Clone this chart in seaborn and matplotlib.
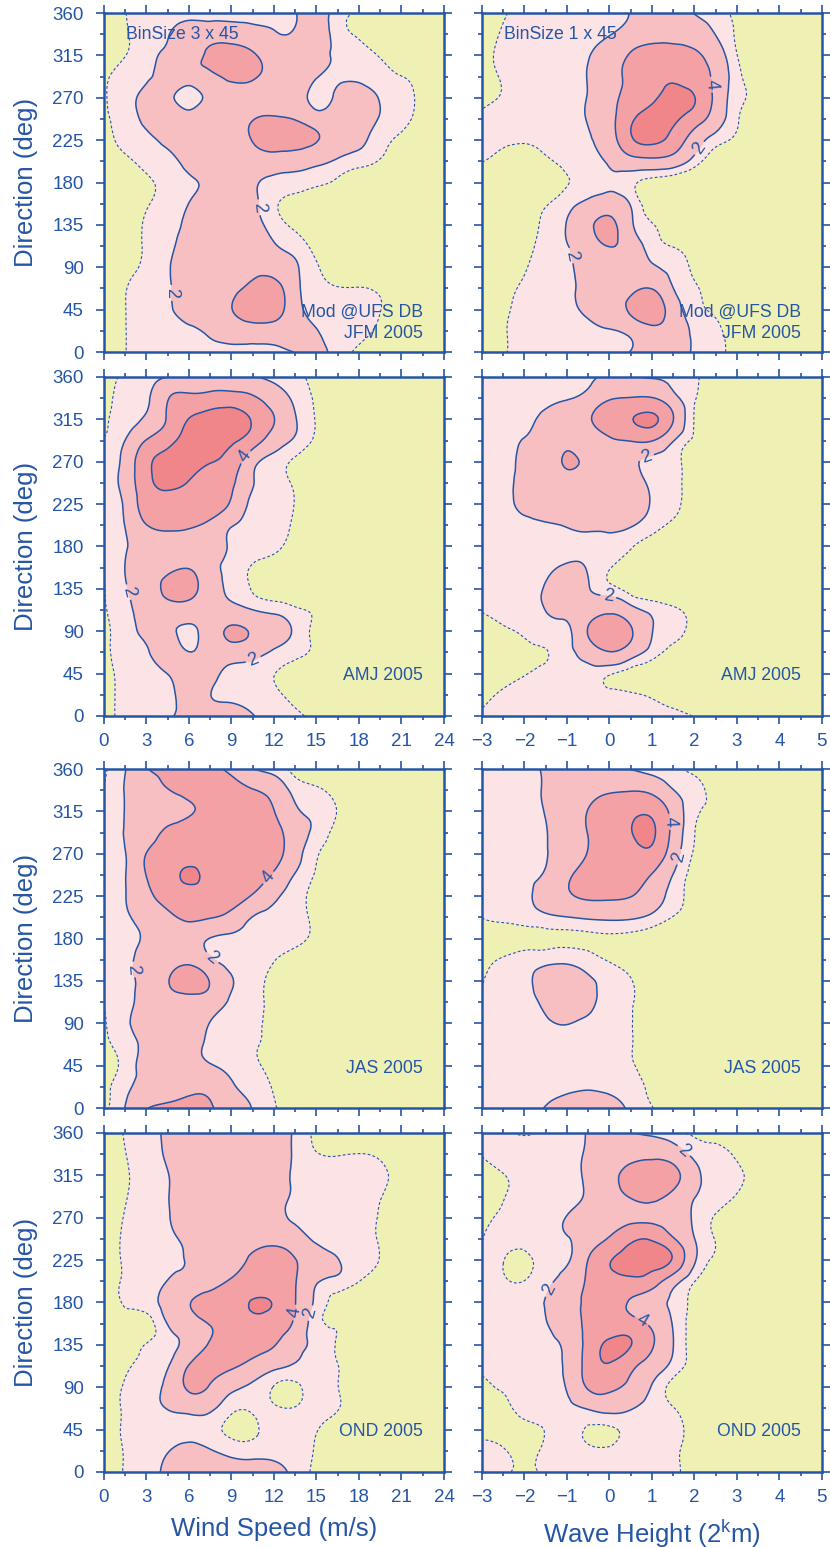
import numpy as np
import matplotlib
matplotlib.use("Agg")
import matplotlib.pyplot as plt
import matplotlib.tri as mtri
import seaborn as sns

# axes of the binned fields
wind_speed = [0, 1.5, 3, 4.5, 6, 7.5, 9, 10.5, 12, 13.5, 15, 16.5, 18, 19.5, 21, 22.5, 24]
wave_height = [-3, -2.5, -2, -1.5, -1, -0.5, 0, 0.5, 1, 1.5, 2, 2.5, 3, 3.5, 4, 4.5, 5]
direction = [0, 22.5, 45, 67.5, 90, 112.5, 135, 157.5, 180,
             202.5, 225, 247.5, 270, 292.5, 315, 337.5, 360]

wind_ticks = [0, 3, 6, 9, 12, 15, 18, 21, 24]
wave_ticks = [-3, -2, -1, 0, 1, 2, 3, 4, 5]
dir_ticks = [0, 45, 90, 135, 180, 225, 270, 315, 360]

seasons = ["JFM 2005", "AMJ 2005", "JAS 2005", "OND 2005"]

# counts, rows from 360 deg (top) down to 0 deg
jfm_wind = [
    [0.5, 0.98, 1.5, 1.5, 1.5, 1.5, 1.5, 1.6, 1.8, 1.95, 2.6, 1.5, 0.8, 0, 0, 0, 0],
    [0.3, 0.9, 1.5, 1.95, 2.6, 3, 3, 2.6, 2.1, 2.2, 2.8, 1.45, 0.85, 0, 0, 0, 0],
    [0.4, 0.98, 1.6, 2.2, 3, 4.5, 5, 4.3, 3, 3, 2.6, 1.8, 1.4, 0.9, 0.3, 0, 0],
    [0.8, 1.4, 1.8, 2.5, 3, 3.5, 4.5, 4.3, 3.2, 3, 2.1, 1.8, 1.7, 1.4, 1.02, 0.5, 0],
    [0.9, 1.6, 2.5, 2.6, 1.2, 2.7, 3, 3, 3, 2.8, 1.5, 2.4, 2.8, 1.9, 1.4, 0.7, 0.2],
    [0.8, 1.5, 2.3, 2.8, 3, 3, 3, 3.9, 4.3, 3.9, 2.9, 2.8, 2.7, 1.9, 1.3, 0.6, 0],
    [0.5, 1.3, 1.7, 2.3, 3, 3, 3, 4.1, 5, 4.8, 4.1, 3, 2.3, 1.4, 0.8, 0.3, 0],
    [0.3, 0.8, 1.3, 1.7, 2.4, 3, 3, 3, 3, 2.8, 2.4, 1.8, 1.4, 0.9, 0.3, 0, 0],
    [0, 0.3, 0.8, 1.3, 1.8, 2.4, 3, 2.2, 1.7, 1.5, 1.2, 0.8, 0.3, 0, 0, 0, 0],
    [0, 0.3, 0.9, 1.4, 2.02, 2.8, 3, 2.3, 1.2, 0.6, 0.2, 0, 0, 0, 0, 0, 0],
    [0.2, 0.6, 1.1, 1.6, 2.3, 3, 3, 2.5, 1.5, 0.8, 0.3, 0, 0, 0, 0, 0, 0],
    [0.2, 0.6, 1.1, 1.7, 2.6, 3, 3, 3, 2.15, 1.5, 0.7, 0.2, 0, 0, 0, 0, 0],
    [0.3, 0.7, 1.2, 1.9, 2.6, 3, 3.2, 3.5, 3.2, 2.2, 1.1, 0.5, 0.2, 0, 0, 0, 0],
    [0.4, 0.95, 1.5, 1.9, 2.5, 3, 3.5, 4.6, 4.8, 2.5, 1.3, 1.05, 1.05, 0.8, 0.3, 0, 0],
    [0.4, 0.98, 1.5, 1.8, 2.6, 3, 3.95, 5.2, 5, 2.7, 1.6, 1.5, 1.4, 1.02, 0.4, 0, 0],
    [0.4, 0.98, 1.3, 1.5, 1.7, 2.3, 2.8, 3, 3, 2.8, 2.05, 1.6, 1.3, 0.8, 0.3, 0, 0],
    [0.4, 0.98, 1.4, 1.5, 1.5, 1.6, 1.7, 1.75, 1.8, 2.02, 2.4, 1.5, 0.8, 0.2, 0, 0, 0],
]

jfm_wave = [
    [0.3, 0.9, 1.3, 1.5, 1.5, 1.6, 1.8, 2.05, 2.8, 2.8, 1.95, 1.4, 0.8, 0.2, 0, 0, 0],
    [0.5, 1.1, 1.4, 1.5, 1.5, 1.7, 1.95, 2.7, 3.2, 3.2, 3, 1.95, 0.9, 0.4, 0, 0, 0],
    [0.7, 1.2, 1.4, 1.5, 1.7, 1.95, 2.8, 4.2, 5, 5, 4.3, 3, 1.02, 0.3, 0, 0, 0],
    [0.6, 1.1, 1.4, 1.5, 1.7, 2.05, 3.2, 4.5, 5.5, 5.8, 5.0, 3.5, 1.3, 0.6, 0.2, 0, 0],
    [0.6, 1.1, 1.4, 1.5, 1.7, 2.05, 3.3, 4.8, 5.8, 6.5, 6.05, 3.5, 1.3, 0.8, 0.2, 0, 0],
    [1.3, 1.4, 1.5, 1.5, 1.7, 2.05, 3.3, 5.7, 6.5, 6.3, 5.0, 3.0, 1.1, 0.6, 0.1, 0, 0],
    [1.2, 1.15, 1.1, 1.3, 1.6, 1.9, 3.05, 5.7, 6.4, 5.3, 3.0, 1.4, 0.8, 0.2, 0, 0, 0],
    [1.02, 0.7, 0.5, 0.8, 1.3, 1.6, 2.2, 3.2, 3.4, 3.0, 1.5, 0.5, 0.2, 0, 0, 0, 0],
    [0.4, 0.2, 0.2, 0.3, 0.95, 1.3, 1.8, 1.3, 0.6, 0.3, 0, 0, 0, 0, 0, 0, 0],
    [0.3, 0.3, 0.5, 0.9, 1.6, 2.4, 2.9, 1.9, 0.4, 0.2, 0, 0, 0, 0, 0, 0, 0],
    [0.4, 0.5, 0.7, 1.2, 2.05, 3.5, 4.5, 2.3, 1.05, 0.4, 0, 0, 0, 0, 0, 0, 0],
    [0.5, 0.6, 0.8, 1.3, 1.95, 3, 4.05, 3.0, 1.5, 0.95, 0.4, 0, 0, 0, 0, 0, 0],
    [0.6, 0.7, 0.95, 1.3, 1.75, 2.6, 3, 3, 2.2, 1.6, 0.8, 0.2, 0, 0, 0, 0, 0],
    [0.7, 0.8, 1.1, 1.3, 1.7, 2.5, 3, 3.5, 3.95, 2.02, 1.1, 0.4, 0, 0, 0, 0, 0],
    [0.8, 0.9, 1.2, 1.4, 1.7, 2.3, 3, 4.3, 5.0, 3.0, 1.3, 0.8, 0.2, 0, 0, 0, 0],
    [0.8, 0.95, 1.2, 1.3, 1.4, 1.6, 1.9, 2.5, 3.5, 3, 1.8, 1.2, 0.5, 0, 0, 0, 0],
    [0.8, 0.95, 1.2, 1.3, 1.4, 1.5, 1.7, 2.05, 2.8, 2.6, 1.9, 1.3, 0.6, 0, 0, 0, 0],
]

amj_wind = [
    [0.6, 1.1, 1.5, 2.02, 2.4, 2.8, 3, 2.2, 1.7, 1.2, 0.8, 0.3, 0, 0, 0, 0, 0],
    [0.7, 1.2, 1.7, 3.9, 4.5, 4.7, 4.8, 4.3, 3, 1.7, 0.9, 0.5, 0, 0, 0, 0, 0],
    [0.9, 1.4, 2.3, 4.2, 6.05, 6.8, 7, 5.8, 4.05, 2.1, 0.95, 0.4, 0, 0, 0, 0, 0],
    [1.05, 2.02, 4.1, 5.4, 6.8, 7, 6.3, 5.0, 3.0, 1.8, 0.8, 0.2, 0, 0, 0, 0, 0],
    [1.2, 2.6, 5.5, 6.6, 6.8, 6.1, 5.2, 2.6, 1.5, 0.8, 0.3, 0, 0, 0, 0, 0, 0],
    [1.3, 2.7, 5.4, 6.4, 5.9, 5.2, 4.3, 2.1, 1.5, 0.8, 0.2, 0, 0, 0, 0, 0, 0],
    [1.3, 2.3, 5.0, 5.3, 5.4, 5.2, 3.7, 1.6, 1.5, 0.95, 0.3, 0, 0, 0, 0, 0, 0],
    [1.2, 2.05, 3.95, 4.4, 4.3, 3.5, 2.1, 1.7, 1.5, 0.8, 0.2, 0, 0, 0, 0, 0, 0],
    [1.2, 1.9, 2.7, 3, 3, 2.8, 1.8, 1.5, 1.2, 0.6, 0.1, 0, 0, 0, 0, 0, 0],
    [1.1, 2.02, 2.8, 3.4, 3.9, 2.6, 1.6, 0.9, 0.5, 0.1, 0, 0, 0, 0, 0, 0, 0],
    [0.95, 1.9, 2.8, 4.6, 4.7, 2.9, 1.7, 0.9, 0.3, 0, 0, 0, 0, 0, 0, 0, 0],
    [0.9, 1.7, 2.4, 2.9, 3, 2.9, 2.6, 2.02, 1.7, 1.2, 0.8, 0.2, 0, 0, 0, 0, 0],
    [0.7, 1.6, 2.2, 2.2, 1.8, 2.9, 4.3, 3.7, 2.6, 1.8, 0.7, 0.3, 0, 0, 0, 0, 0],
    [0.8, 1.4, 1.9, 2.4, 2.02, 2.6, 3.0, 2.7, 1.8, 1.3, 0.8, 0.3, 0, 0, 0, 0, 0],
    [0.7, 1.3, 1.7, 2.02, 2.6, 2.4, 1.6, 1.3, 1.02, 0.6, 0.3, 0, 0, 0, 0, 0, 0],
    [0.7, 1.25, 1.5, 1.7, 2.4, 2.02, 1.7, 1.5, 1.2, 0.7, 0.3, 0, 0, 0, 0, 0, 0],
    [0.7, 1.25, 1.5, 1.8, 2.5, 2.8, 2.6, 2.05, 1.6, 1.2, 0.7, 0.2, 0, 0, 0, 0, 0],
]

amj_wave = [
    [1.4, 1.5, 1.5, 1.6, 1.7, 1.85, 2.1, 2.05, 1.9, 1.6, 1.1, 0.6, 0.2, 0, 0, 0, 0],
    [1.3, 1.4, 1.5, 1.6, 1.9, 2.6, 3.8, 4.1, 4.1, 2.6, 1.05, 0.5, 0.1, 0, 0, 0, 0],
    [1.3, 1.5, 1.8, 2.3, 2.9, 3.8, 5.0, 5.9, 6.3, 4.05, 0.95, 0.5, 0.1, 0, 0, 0, 0],
    [1.3, 1.5, 2.05, 2.6, 3.5, 3.2, 3.7, 4.1, 4.1, 2.1, 0.9, 0.4, 0, 0, 0, 0, 0],
    [1.2, 1.5, 2.2, 2.8, 4.2, 3.5, 3, 2.4, 1.6, 1.2, 0.6, 0.1, 0, 0, 0, 0, 0],
    [1.25, 1.6, 2.3, 2.8, 3.3, 3.1, 3, 2.8, 1.7, 1.2, 0.6, 0.1, 0, 0, 0, 0, 0],
    [1.25, 1.6, 2.3, 2.8, 3, 3, 3, 2.8, 1.9, 1.2, 0.6, 0.1, 0, 0, 0, 0, 0],
    [1.3, 1.5, 1.7, 1.85, 2.1, 2.3, 2.3, 2.1, 1.45, 0.8, 0.4, 0, 0, 0, 0, 0, 0],
    [1.3, 1.5, 1.6, 1.7, 1.75, 1.7, 1.6, 1.1, 0.5, 0.1, 0, 0, 0, 0, 0, 0, 0],
    [1.3, 1.4, 1.5, 1.8, 2.15, 1.9, 1.05, 0.5, 0.1, 0, 0, 0, 0, 0, 0, 0, 0],
    [1.3, 1.4, 1.7, 2.1, 2.9, 2.1, 1.3, 0.6, 0.1, 0, 0, 0, 0, 0, 0, 0, 0],
    [1.05, 1.3, 1.6, 2.02, 2.7, 3, 3.6, 2.6, 1.7, 1.2, 0.5, 0, 0, 0, 0, 0, 0],
    [0.6, 0.85, 1.2, 1.5, 1.6, 4.1, 5, 4.2, 2.05, 1.3, 0.6, 0.1, 0, 0, 0, 0, 0],
    [0.4, 0.5, 0.7, 0.95, 1.6, 2.8, 3.9, 2.9, 1.5, 0.7, 0.3, 0, 0, 0, 0, 0, 0],
    [0.5, 0.7, 0.95, 1.2, 1.5, 1.6, 1.1, 0.6, 0.2, 0, 0, 0, 0, 0, 0, 0, 0],
    [0.8, 1.1, 1.3, 1.4, 1.4, 1.4, 1.3, 1.15, 0.8, 0.4, 0, 0, 0, 0, 0, 0, 0],
    [1.1, 1.3, 1.4, 1.5, 1.5, 1.5, 1.6, 1.5, 1.4, 1.3, 0.95, 0.5, 0.1, 0, 0, 0, 0],
]

jas_wind = [
    [0.9, 1.95, 3.9, 4.5, 4.8, 4.4, 3.5, 2.05, 1.5, 0.7, 0.3, 0, 0, 0, 0, 0, 0],
    [0.98, 2.05, 2.8, 3.9, 4.6, 4.8, 4.8, 4.1, 3.2, 1.6, 1.2, 0.5, 0.1, 0, 0, 0, 0],
    [0.98, 2.05, 2.8, 3.1, 3.8, 4.5, 5, 5, 4.05, 2.2, 1.8, 0.95, 0.4, 0, 0, 0, 0],
    [1.02, 2.05, 2.8, 4.5, 5, 5.2, 5.2, 5.2, 4.8, 2.8, 1.7, 0.6, 0.2, 0, 0, 0, 0],
    [1.05, 1.95, 4.05, 5, 5.3, 5.4, 5.4, 5.3, 4.8, 2.7, 1.1, 0.4, 0, 0, 0, 0, 0],
    [1.05, 1.95, 4.05, 5.2, 6.3, 5.5, 5.4, 5.1, 3.7, 1.9, 0.9, 0.2, 0, 0, 0, 0, 0],
    [1.05, 1.95, 3.5, 4.6, 5.2, 5.3, 5.0, 3.8, 2.3, 1.4, 0.7, 0.3, 0, 0, 0, 0, 0],
    [1.05, 1.8, 2.6, 3.6, 4.3, 4.1, 3.3, 1.95, 1.7, 1.5, 0.7, 0.3, 0, 0, 0, 0, 0],
    [1.05, 1.6, 2.15, 2.6, 2.8, 1.95, 1.7, 1.6, 1.5, 1.35, 0.7, 0.3, 0, 0, 0, 0, 0],
    [1.05, 1.6, 2.5, 3.0, 3.5, 2.3, 1.5, 1.5, 1.05, 0.5, 0.1, 0, 0, 0, 0, 0, 0],
    [1.05, 1.6, 2.5, 3.9, 4.8, 3.9, 2.1, 1.4, 0.7, 0.2, 0, 0, 0, 0, 0, 0, 0],
    [1.02, 1.6, 2.5, 3.2, 3.4, 3.0, 1.8, 1.3, 0.7, 0.2, 0, 0, 0, 0, 0, 0, 0],
    [0.9, 1.8, 2.4, 2.8, 3, 1.95, 1.7, 1.2, 0.8, 0.2, 0, 0, 0, 0, 0, 0, 0],
    [0.8, 1.5, 2.3, 2.8, 2.5, 1.8, 1.6, 1.1, 0.8, 0.2, 0, 0, 0, 0, 0, 0, 0],
    [0.6, 1.35, 2.5, 2.8, 2.6, 2.1, 1.7, 1.2, 0.7, 0.2, 0, 0, 0, 0, 0, 0, 0],
    [0.7, 1.7, 2.5, 3.0, 3.5, 3.4, 2.2, 1.6, 0.9, 0.3, 0, 0, 0, 0, 0, 0, 0],
    [0.8, 2.05, 3.9, 4.5, 4.8, 4.2, 3.0, 1.95, 1.1, 0.4, 0, 0, 0, 0, 0, 0, 0],
]

jas_wave = [
    [1.5, 1.6, 1.8, 2.1, 2.5, 2.6, 2.4, 1.95, 1.5, 1.2, 0.8, 0.3, 0, 0, 0, 0, 0],
    [1.5, 1.6, 1.8, 2.1, 2.8, 3.4, 3.8, 3.9, 3.5, 2.05, 1.3, 0.6, 0.1, 0, 0, 0, 0],
    [1.45, 1.55, 1.75, 2.05, 3, 4.05, 4.8, 5.5, 5.6, 3.3, 1.2, 0.7, 0.1, 0, 0, 0, 0],
    [1.4, 1.55, 1.7, 1.95, 2.9, 4.05, 5.0, 5.9, 6.3, 3.4, 1.02, 0.4, 0, 0, 0, 0, 0],
    [1.4, 1.5, 1.7, 1.95, 2.8, 4.1, 5.0, 5.3, 5.5, 2.9, 0.9, 0.3, 0, 0, 0, 0, 0],
    [1.4, 1.55, 1.8, 2.15, 3.6, 4.7, 5.0, 4.9, 3.9, 1.95, 0.7, 0.2, 0, 0, 0, 0, 0],
    [1.35, 1.5, 1.8, 2.6, 3.7, 4.3, 4.3, 4.05, 2.9, 1.5, 0.7, 0.2, 0, 0, 0, 0, 0],
    [1.02, 1.2, 1.4, 1.7, 1.95, 2.2, 2.3, 2.2, 1.7, 0.95, 0.5, 0.1, 0, 0, 0, 0, 0],
    [0.5, 0.6, 0.7, 0.75, 0.8, 0.8, 0.8, 0.7, 0.4, 0.1, 0, 0, 0, 0, 0, 0, 0],
    [0.6, 1.1, 1.4, 1.6, 1.7, 1.4, 0.9, 0.6, 0.2, 0, 0, 0, 0, 0, 0, 0, 0],
    [0.95, 1.4, 1.7, 2.6, 2.8, 2.2, 1.6, 1.05, 0.5, 0.1, 0, 0, 0, 0, 0, 0, 0],
    [1.05, 1.4, 1.6, 2.3, 2.9, 2.4, 1.4, 1.05, 0.5, 0.1, 0, 0, 0, 0, 0, 0, 0],
    [1.2, 1.4, 1.6, 1.85, 2.05, 1.7, 1.5, 1.05, 0.5, 0.1, 0, 0, 0, 0, 0, 0, 0],
    [1.3, 1.4, 1.5, 1.6, 1.6, 1.5, 1.4, 1.05, 0.5, 0.1, 0, 0, 0, 0, 0, 0, 0],
    [1.3, 1.4, 1.5, 1.6, 1.6, 1.6, 1.5, 1.1, 0.6, 0.1, 0, 0, 0, 0, 0, 0, 0],
    [1.3, 1.4, 1.5, 1.7, 1.8, 1.9, 1.8, 1.5, 0.7, 0.1, 0, 0, 0, 0, 0, 0, 0],
    [1.3, 1.5, 1.7, 2.05, 2.6, 2.8, 2.5, 1.8, 1.05, 0.4, 0, 0, 0, 0, 0, 0, 0],
]

ond_wind = [
    [0.6, 1.05, 1.5, 2.3, 3, 3, 3, 3, 2.8, 1.8, 0.8, 0.4, 0.1, 0, 0, 0, 0],
    [0.55, 0.98, 1.5, 2.2, 3, 3, 3, 3, 2.8, 1.8, 1.05, 0.95, 1.02, 0.8, 0.2, 0, 0],
    [0.5, 0.9, 1.4, 1.95, 2.8, 3, 3, 3, 2.7, 1.8, 1.5, 1.4, 1.4, 1.25, 0.5, 0, 0],
    [0.5, 0.95, 1.4, 1.95, 2.8, 3, 3, 3, 2.6, 1.8, 1.6, 1.5, 1.4, 1.05, 0.4, 0, 0],
    [0.5, 1.05, 1.4, 1.9, 2.8, 3, 3, 3, 2.7, 1.7, 1.6, 1.5, 1.4, 0.9, 0.3, 0, 0],
    [0.6, 1.1, 1.4, 1.8, 2.3, 3, 3, 3.2, 3.6, 3.0, 1.7, 1.6, 1.4, 0.9, 0.3, 0, 0],
    [0.6, 1.1, 1.4, 1.7, 2.1, 2.5, 3, 4.4, 4.6, 4.05, 3.0, 2.05, 1.6, 0.95, 0.3, 0, 0],
    [0.6, 1.1, 1.4, 2.05, 2.6, 3, 4.3, 5.0, 5.0, 4.1, 2.15, 1.7, 1.02, 0.4, 0, 0, 0],
    [0.6, 1.1, 1.5, 2.6, 3.9, 4.9, 5.4, 6.1, 5.9, 4.05, 1.7, 0.6, 0.2, 0, 0, 0, 0],
    [0.3, 0.55, 0.6, 2.05, 3.1, 4.1, 4.8, 5.5, 5.2, 3.6, 1.3, 0.9, 0.3, 0, 0, 0, 0],
    [0.2, 0.4, 1.05, 1.5, 2.7, 4.2, 5.0, 4.8, 4.1, 2.6, 1.7, 0.9, 0.3, 0, 0, 0, 0],
    [0.3, 0.8, 1.3, 1.9, 4.1, 4.7, 4.3, 3.3, 2.4, 1.85, 1.5, 1.02, 0.4, 0, 0, 0, 0],
    [0.6, 1.1, 1.6, 2.4, 4.3, 3.8, 2.4, 1.7, 0.95, 0.8, 1.4, 1.02, 0.4, 0, 0, 0, 0],
    [0.6, 1.1, 1.5, 2.05, 2.5, 2.3, 1.2, 1.1, 1.1, 1.05, 1.4, 1.05, 0.4, 0, 0, 0, 0],
    [0.6, 1.1, 1.4, 1.6, 1.6, 1.3, 0.8, 0.85, 1.3, 1.4, 1.05, 0.4, 0.1, 0, 0, 0, 0],
    [0.6, 1.05, 1.5, 1.95, 2.4, 2.1, 1.6, 1.5, 1.6, 1.5, 0.9, 0.3, 0, 0, 0, 0, 0],
    [0.6, 1.05, 1.5, 2.3, 3, 3, 2.8, 2.8, 2.6, 1.6, 0.8, 0.3, 0, 0, 0, 0, 0],
]

ond_wave = [
    [1.3, 1.2, 0.9, 1.2, 1.5, 2.1, 2.6, 2.1, 1.7, 1.2, 0.85, 0.3, 0, 0, 0, 0, 0],
    [1.05, 1.25, 1.35, 1.4, 1.6, 2.2, 3.0, 3.5, 3.6, 3.0, 1.7, 1.4, 0.8, 0.2, 0, 0, 0],
    [0.7, 0.98, 1.2, 1.4, 1.6, 2.3, 3.5, 4.4, 4.8, 4.6, 2.5, 1.5, 1.2, 0.5, 0, 0, 0],
    [0.7, 0.98, 1.2, 1.4, 1.6, 2.2, 3.2, 4.1, 4.4, 3.5, 2.05, 1.5, 0.9, 0.3, 0, 0, 0],
    [0.8, 1.1, 1.3, 1.5, 2.05, 2.7, 3.2, 3.6, 3.6, 3.0, 1.8, 0.9, 0.3, 0, 0, 0, 0],
    [0.98, 1.2, 1.3, 1.6, 1.9, 3.0, 4.2, 5.6, 5.8, 4.2, 2.02, 0.95, 0.3, 0, 0, 0, 0],
    [1.1, 1.02, 0.8, 1.3, 1.8, 4.05, 5.9, 6.5, 6.6, 5.8, 2.2, 0.8, 0.2, 0, 0, 0, 0],
    [1.15, 1.1, 1.02, 1.7, 2.6, 4.3, 5.4, 5.6, 5.0, 2.8, 1.02, 0.3, 0, 0, 0, 0, 0],
    [1.3, 1.4, 1.6, 2.02, 2.8, 4.6, 4.8, 3.8, 2.8, 1.7, 0.7, 0.2, 0, 0, 0, 0, 0],
    [1.35, 1.45, 1.7, 1.95, 3.0, 4.4, 5.0, 4.8, 3.6, 1.9, 0.6, 0.2, 0, 0, 0, 0, 0],
    [1.3, 1.35, 1.6, 1.7, 2.4, 4.7, 6.3, 6.05, 4.2, 2.02, 0.6, 0.2, 0, 0, 0, 0, 0],
    [1.3, 1.35, 1.5, 1.6, 2.3, 4.8, 5.8, 4.5, 3.0, 1.6, 0.6, 0.1, 0, 0, 0, 0, 0],
    [0.6, 1.1, 1.3, 1.6, 2.1, 4.2, 4.4, 3.5, 1.9, 0.7, 0.3, 0, 0, 0, 0, 0, 0],
    [0.5, 0.7, 1.4, 1.5, 1.7, 2.1, 2.5, 2.1, 1.5, 1.05, 0.3, 0, 0, 0, 0, 0, 0],
    [0.7, 0.5, 0.6, 1.05, 1.3, 0.9, 0.85, 1.3, 1.5, 1.4, 0.5, 0, 0, 0, 0, 0, 0],
    [1.3, 1.1, 0.7, 1.2, 1.4, 1.15, 1.15, 1.4, 1.5, 1.2, 0.5, 0, 0, 0, 0, 0, 0],
    [1.3, 1.2, 0.8, 1.2, 1.4, 1.4, 1.45, 1.4, 1.4, 1.2, 0.5, 0, 0, 0, 0, 0, 0],
]

wind_grids = [jfm_wind, amj_wind, jas_wind, ond_wind]
wave_grids = [jfm_wave, amj_wave, jas_wave, ond_wave]

# where the inline contour numbers sit in each panel
wind_label_spots = [
    [(10.6, 153), (4.4, 63)],
    [(9.8, 277), (1.45, 131), (10.5, 61)],
    [(11.5, 246), (2.05, 147), (7.7, 161)],
    [(13.1, 170), (14.3, 170)],
]
wave_label_spots = [
    [(2.43, 284), (2.0, 220), (-0.94, 102)],
    [(0.9, 271), (-0.04, 121)],
    [(1.38, 304), (1.61, 267)],
    [(1.75, 341), (-1.29, 191), (0.71, 157)],
]

# styling
sns.set_theme(style="ticks")
plt.rcParams['font.family'] = ['Liberation Sans', 'DejaVu Sans']
plt.rcParams['axes.unicode_minus'] = True
BLUE = '#2556A5'
fill_colors = ['#EFF1B4', '#FCE4E6', '#F8BFC3', '#F4A1A6', '#F0868A']
fill_levels = [-5, 1, 2, 4, 6, 20]

fig = plt.figure(figsize=(8.3, 15.48), dpi=100)
lefts = [0.1253, 0.5807]
bottoms = [0.7726, 0.5375, 0.2842, 0.0491]
W, H = 0.4096, 0.2190


def smooth_field(xs, grid):
    # cubic surface through the binned values, drawn on a finer mesh
    z = np.array(grid, dtype=float)[::-1]
    ny, nx = z.shape
    ii, jj = np.meshgrid(np.arange(nx, dtype=float), np.arange(ny, dtype=float))
    tri = mtri.Triangulation(ii.ravel(), jj.ravel())
    interp = mtri.CubicTriInterpolator(tri, z.ravel(), kind='min_E')
    fine, zf = mtri.UniformTriRefiner(tri).refine_field(z.ravel(), triinterpolator=interp,
                                                        subdiv=3)
    dx = xs[1] - xs[0]
    dy = direction[1] - direction[0]
    fine_xy = mtri.Triangulation(xs[0] + fine.x * dx, direction[0] + fine.y * dy,
                                 fine.triangles)
    return fine_xy, zf


def draw_panel(ax, xs, grid, spots, xticks, xminor, xlim):
    tri, zf = smooth_field(xs, grid)
    ax.tricontourf(tri, zf, levels=fill_levels, colors=fill_colors)
    ax.tricontour(tri, zf, levels=[1], colors=BLUE, linewidths=0.8,
                  linestyles=[(0, (2.5, 2))])
    cs = ax.tricontour(tri, zf, levels=[2, 4, 6], colors=BLUE, linewidths=1.1)
    ax.clabel(cs, levels=[2, 4], fmt='%d', fontsize=13, manual=spots,
              inline=True, inline_spacing=3)
    ax.set_xlim(*xlim)
    ax.set_ylim(0, 360)
    ax.set_xticks(xticks)
    ax.set_xticks(xminor, minor=True)
    ax.set_yticks(dir_ticks)
    ax.set_yticks(direction, minor=True)
    ax.tick_params(which='both', direction='out', top=True, right=True,
                   color=BLUE, width=1.2, labelcolor=BLUE, labelsize=13.5)
    ax.tick_params(which='major', length=5.5)
    ax.tick_params(which='minor', length=3)
    ax.tick_params(axis='y', pad=9)
    ax.tick_params(axis='x', pad=7)
    for sp in ax.spines.values():
        sp.set_color(BLUE)
        sp.set_linewidth(1.8)
        sp.set_visible(True)


for i, season in enumerate(seasons):
    # wind speed column
    ax = fig.add_axes([lefts[0], bottoms[i], W, H])
    draw_panel(ax, wind_speed, wind_grids[i], wind_label_spots[i],
               wind_ticks, wind_speed, (0, 24))
    ax.set_ylabel('Direction (deg)', color=BLUE, fontsize=18.5, labelpad=10)
    ax.tick_params(labelbottom=(i % 2 == 1))

    # wave height column
    ax2 = fig.add_axes([lefts[1], bottoms[i], W, H])
    draw_panel(ax2, wave_height, wave_grids[i], wave_label_spots[i],
               wave_ticks, wave_height, (-3, 5))
    ax2.tick_params(labelleft=False, labelbottom=(i % 2 == 1))

    for a in (ax, ax2):
        if i == 0:
            a.text(0.938, 0.118, 'Mod @UFS DB', transform=a.transAxes, ha='right',
                   va='center', color=BLUE, fontsize=12.7)
            a.text(0.938, 0.056, season, transform=a.transAxes, ha='right',
                   va='center', color=BLUE, fontsize=12.7)
        else:
            a.text(0.938, 0.118, season, transform=a.transAxes, ha='right',
                   va='center', color=BLUE, fontsize=12.7)

    if i == 0:
        ax.text(0.065, 0.938, 'BinSize 3 x 45', transform=ax.transAxes, ha='left',
                va='center', color=BLUE, fontsize=12.7)
        ax2.text(0.065, 0.938, 'BinSize 1 x 45', transform=ax2.transAxes, ha='left',
                 va='center', color=BLUE, fontsize=12.7)
    if i == 3:
        ax.set_xlabel('Wind Speed (m/s)', color=BLUE, fontsize=18.5, labelpad=8)
        ax2.set_xlabel(r'Wave Height (2$^\mathregular{k}$m)', color=BLUE,
                       fontsize=18.5, labelpad=8)

fig.savefig('out.png', dpi=100)
